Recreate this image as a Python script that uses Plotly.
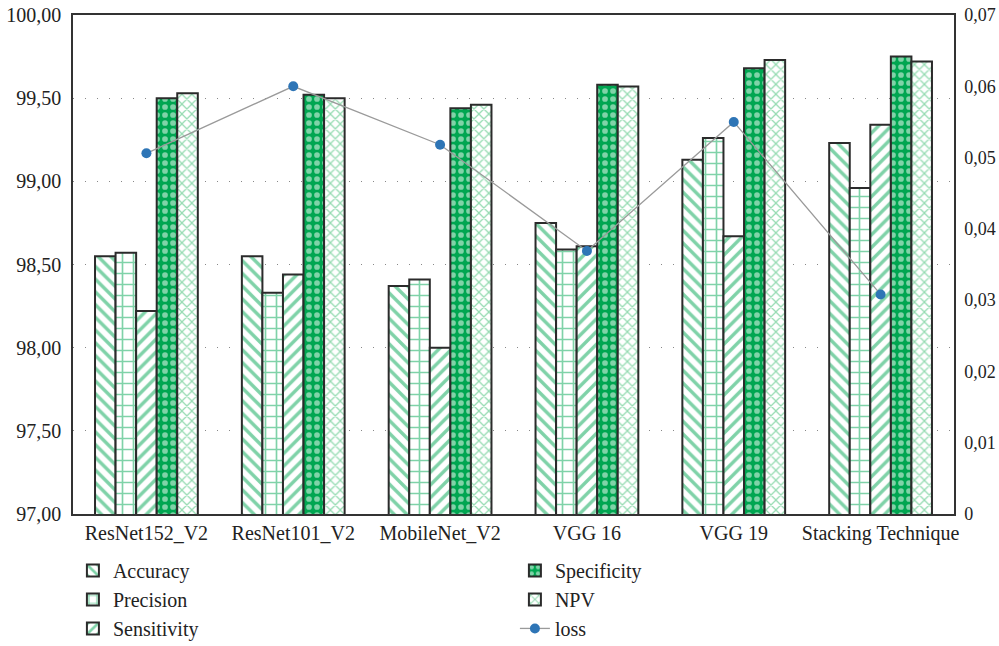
import plotly.graph_objects as go

categories = ["ResNet152_V2", "ResNet101_V2", "MobileNet_V2", "VGG 16", "VGG 19", "Stacking Technique"]
accuracy = [98.55, 98.55, 98.37, 98.75, 99.13, 99.23]
precision = [98.57, 98.33, 98.41, 98.59, 99.26, 98.96]
sensitivity = [98.22, 98.44, 98.00, 98.61, 98.67, 99.34]
specificity = [99.50, 99.52, 99.44, 99.58, 99.68, 99.75]
npv = [99.53, 99.50, 99.46, 99.57, 99.73, 99.72]
loss = [0.0506, 0.0600, 0.0518, 0.0369, 0.0550, 0.0308]

GREEN = "#00A651"
LIGHT_GREEN = "#2DB866"
EDGE = "#2b2b2b"
FONT = "Liberation Serif"

fig = go.Figure()

def add_bar(name, vals, pattern, rank):
    fig.add_trace(go.Bar(
        x=categories, y=vals, name=name, legendrank=rank,
        marker=dict(color="white", line=dict(color=EDGE, width=2), pattern=pattern),
        yaxis="y",
    ))

add_bar("Accuracy", accuracy, dict(shape="\\", fgcolor=GREEN, bgcolor="white", size=9, solidity=0.38), 1)
add_bar("Precision", precision, dict(shape="+", fgcolor=GREEN, bgcolor="white", size=11, solidity=0.28), 3)
add_bar("Sensitivity", sensitivity, dict(shape="/", fgcolor=GREEN, bgcolor="white", size=9, solidity=0.38), 5)
add_bar("Specificity", specificity, dict(shape=".", fgcolor="white", bgcolor=GREEN, size=8, solidity=0.4), 2)
add_bar("NPV", npv, dict(shape="x", fgcolor=LIGHT_GREEN, bgcolor="white", size=7, solidity=0.33), 4)

fig.add_trace(go.Scatter(
    x=categories, y=loss, name="loss", legendrank=6, yaxis="y2",
    mode="lines+markers",
    line=dict(color="#9a9a9a", width=1.3),
    marker=dict(color="#2E75B6", size=10),
))

fig.update_layout(
    width=999, height=646,
    margin=dict(l=73, r=45, t=15, b=132, autoexpand=False),
    paper_bgcolor="white", plot_bgcolor="white",
    separators=",.",
    font=dict(family=FONT, size=20, color="#222"),
    barmode="group", bargap=0.3, bargroupgap=0,
    showlegend=True,
    legend=dict(
        orientation="h", x=-0.0001, xanchor="left", y=-0.074, yanchor="top",
        entrywidth=397, entrywidthmode="pixels",
        font=dict(family=FONT, size=20, color="#222"),
        traceorder="normal",
    ),
    xaxis=dict(
        showline=True, linecolor="#333", linewidth=1.5, mirror=True,
        ticks="", tickfont=dict(family=FONT, size=20),
    ),
    yaxis=dict(
        range=[97, 100], dtick=0.5, tickformat=".2f",
        showline=True, linecolor="#333", linewidth=1.5,
        showgrid=True, gridcolor="#888", griddash="1px,11px", gridwidth=1,
        zeroline=False, ticks="", ticklabelstandoff=6,
        tickfont=dict(family=FONT, size=20),
    ),
    yaxis2=dict(
        range=[0, 0.07], dtick=0.01, tickformat=".2~f",
        overlaying="y", side="right",
        showline=True, linecolor="#333", linewidth=1.5,
        showgrid=False, zeroline=False, ticks="", ticklabelstandoff=5,
        tickfont=dict(family=FONT, size=18),
    ),
)

# remove the browser's default 8px body margin so the figure fills the window
fig.write_html(
    "out.html",
    config={"displayModeBar": False},
    post_script="document.body.style.margin='0';document.body.style.overflow='hidden';",
)
